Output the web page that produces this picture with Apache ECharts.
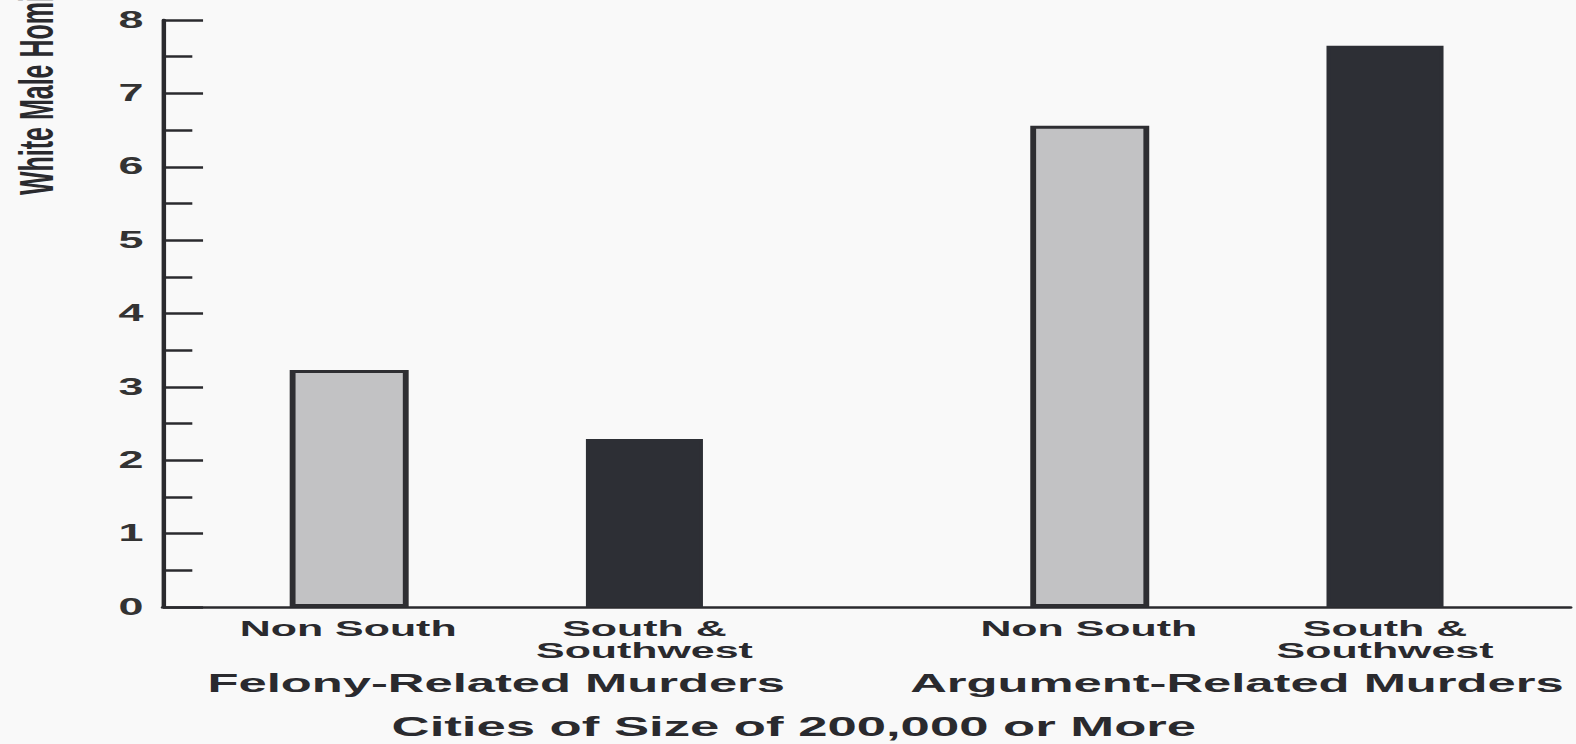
<!DOCTYPE html>
<html>
<head>
<meta charset="utf-8">
<script src="https://cdn.jsdelivr.net/npm/echarts@6/dist/echarts.min.js"></script>
<style>
  html, body { margin: 0; padding: 0; width: 1576px; height: 744px; overflow: hidden; background: #f9f9f9; }
  /* the reference scan is stretched horizontally; draw at a narrower width and stretch the vector output */
  #chart { width: 808px; height: 744px; transform: scaleX(1.9505); transform-origin: 0 0; }
</style>
</head>
<body>
<div id="chart"></div>
<script>
// ---- data ----
const groups = ['Felony-Related Murders', 'Argument-Related Murders'];
const regions = ['Non South', 'South &\nSouthwest'];
const nonSouth = [3.23, 6.56];          // Non South, per group
const southSouthwest = [2.29, 7.65];    // South & Southwest, per group
const yTickLabels = ['0', '1', '2', '3', '4', '5', '6', '7', '8'];
const xTitle = 'Cities of Size of 200,000 or More';
const yTitle = 'White Male Homicide Rate';

// ---- layout of the category slots (spacing between bars and groups) ----
const LEAD = 5, IN_GROUP = 8, BETWEEN = 12, TAIL = 5;
const STEP = IN_GROUP + BETWEEN;
const nSlots = LEAD + (groups.length - 1) * STEP + IN_GROUP + TAIL + 1;
const slotOf = (g, r) => LEAD + g * STEP + r * IN_GROUP;

const barLabels = new Array(nSlots).fill('');
const groupLabels = new Array(nSlots).fill('');
const nonSouthData = new Array(nSlots).fill(null);
const southData = new Array(nSlots).fill(null);
groups.forEach((g, gi) => {
  regions.forEach((r, ri) => { barLabels[slotOf(gi, ri)] = r; });
  groupLabels[LEAD + gi * STEP + IN_GROUP / 2] = g;
  nonSouthData[slotOf(gi, 0)] = nonSouth[gi];
  southData[slotOf(gi, 1)] = southSouthwest[gi];
});

const ink = '#2a2a2e';
const font = 'Liberation Sans, Arial, Helvetica, sans-serif';

const chart = echarts.init(document.getElementById('chart'), null, { renderer: 'svg' });
chart.setOption({
  backgroundColor: '#f9f9f9',
  animation: false,
  title: {
    text: xTitle,
    left: 407, top: 713, textAlign: 'center', padding: 0,
    textStyle: { fontFamily: font, fontSize: 27, fontWeight: 'bold', color: ink }
  },
  graphic: [{
    type: 'text',
    x: 18.7, y: 195,
    rotation: Math.PI / 2,
    style: { text: yTitle, fontFamily: font, fontSize: 25, fontWeight: 'bold', fill: ink, align: 'left', verticalAlign: 'middle' }
  }],
  grid: { left: 83.6, right: 0.6, top: 20, bottom: 137, containLabel: false },
  xAxis: [{
    type: 'category',
    data: barLabels,
    boundaryGap: false,
    axisLine: { show: true, lineStyle: { color: ink, width: 2.5 } },
    axisTick: { show: false },
    splitLine: { show: false },
    axisLabel: { interval: 0, margin: 10, fontFamily: font, fontSize: 22, fontWeight: 'bold', lineHeight: 22, color: ink }
  }, {
    type: 'category',
    data: groupLabels,
    boundaryGap: false,
    position: 'bottom',
    offset: 59,
    axisLine: { show: false },
    axisTick: { show: false },
    splitLine: { show: false },
    axisLabel: { interval: 0, margin: 4, fontFamily: font, fontSize: 26, fontWeight: 'bold', color: ink }
  }],
  yAxis: {
    type: 'value',
    min: 0, max: 8, interval: 1,
    axisLine: { show: true, lineStyle: { color: ink, width: 2.3 } },
    axisTick: { show: true, inside: true, length: 20.5, lineStyle: { color: ink, width: 2.5 } },
    minorTick: { show: true, splitNumber: 2, length: 15, lineStyle: { color: ink, width: 2.5 } },
    splitLine: { show: false },
    minorSplitLine: { show: false },
    axisLabel: {
      margin: 10, fontFamily: font, fontSize: 23, fontWeight: 'bold', color: '#333',
      formatter: v => yTickLabels[v] !== undefined ? yTickLabels[v] : ''
    }
  },
  series: [{
    name: 'Non South',
    type: 'bar',
    xAxisIndex: 0,
    data: nonSouthData,
    barWidth: 61,
    barGap: '-100%',
    itemStyle: { color: '#c2c2c4', borderColor: '#2e2e32', borderWidth: 3 }
  }, {
    name: 'South & Southwest',
    type: 'bar',
    xAxisIndex: 0,
    data: southData,
    barWidth: 60,
    barGap: '-100%',
    itemStyle: { color: '#2d2f35', borderColor: '#2d2f35', borderWidth: 2 }
  }]
});
</script>
</body>
</html>
